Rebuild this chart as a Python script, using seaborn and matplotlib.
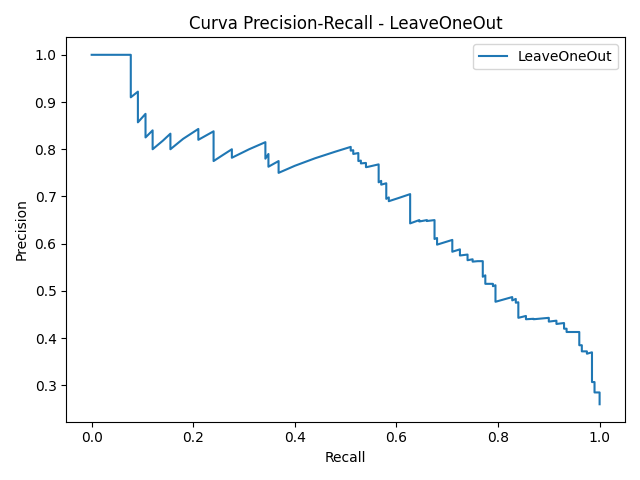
import matplotlib
matplotlib.use("Agg")
import matplotlib.pyplot as plt
import seaborn as sns
import pandas as pd

recall = [0.0, 0.077, 0.077, 0.091, 0.091, 0.106, 0.106, 0.12, 0.12, 0.14, 0.155, 0.155, 0.18, 0.21, 0.21, 0.24, 0.24, 0.26, 0.276, 0.276,
          0.31, 0.342, 0.342, 0.348, 0.348, 0.368, 0.368, 0.40, 0.44, 0.48, 0.51, 0.51, 0.515, 0.515, 0.525, 0.525, 0.53, 0.53, 0.54, 0.54,
          0.545, 0.565, 0.565, 0.57, 0.57, 0.58, 0.58, 0.585, 0.585, 0.605, 0.627, 0.627, 0.645, 0.645, 0.66, 0.66, 0.675, 0.675,
          0.68, 0.68, 0.71, 0.71, 0.725, 0.725, 0.74, 0.74, 0.75, 0.75, 0.76, 0.77, 0.77, 0.775, 0.775, 0.79, 0.79, 0.795, 0.795,
          0.828, 0.828, 0.835, 0.835, 0.84, 0.84, 0.855, 0.855, 0.87, 0.87, 0.9, 0.9, 0.915, 0.915, 0.93, 0.93, 0.935, 0.935,
          0.96, 0.96, 0.965, 0.965, 0.975, 0.975, 0.985, 0.985, 0.99, 0.99, 1.0, 1.0]
precision = [1.0, 1.0, 0.91, 0.922, 0.857, 0.875, 0.825, 0.84, 0.80, 0.818, 0.833, 0.80, 0.822, 0.843, 0.82, 0.838, 0.775, 0.789, 0.80, 0.782,
             0.80, 0.815, 0.78, 0.79, 0.763, 0.775, 0.75, 0.765, 0.781, 0.795, 0.805, 0.797, 0.798, 0.79, 0.792, 0.775, 0.776, 0.77, 0.771, 0.762,
             0.763, 0.768, 0.73, 0.733, 0.725, 0.728, 0.695, 0.698, 0.69, 0.697, 0.705, 0.643, 0.65, 0.647, 0.65, 0.648, 0.65, 0.61,
             0.612, 0.598, 0.608, 0.583, 0.588, 0.575, 0.577, 0.565, 0.567, 0.562, 0.563, 0.563, 0.53, 0.533, 0.515, 0.515, 0.51, 0.512, 0.477,
             0.487, 0.48, 0.483, 0.475, 0.476, 0.443, 0.447, 0.44, 0.441, 0.44, 0.443, 0.435, 0.437, 0.43, 0.432, 0.42, 0.42, 0.413,
             0.413, 0.385, 0.385, 0.372, 0.372, 0.367, 0.37, 0.307, 0.307, 0.285, 0.285, 0.26]

df = pd.DataFrame({"Recall": recall, "Precision": precision})
fig, ax = plt.subplots(figsize=(6.4, 4.8), dpi=100)
sns.lineplot(data=df, x="Recall", y="Precision", sort=False, estimator=None, ax=ax, label="LeaveOneOut", color="#1f77b4")
ax.set_title("Curva Precision-Recall - LeaveOneOut")
ax.legend(loc="upper right")
fig.tight_layout()
fig.savefig("out.png")
